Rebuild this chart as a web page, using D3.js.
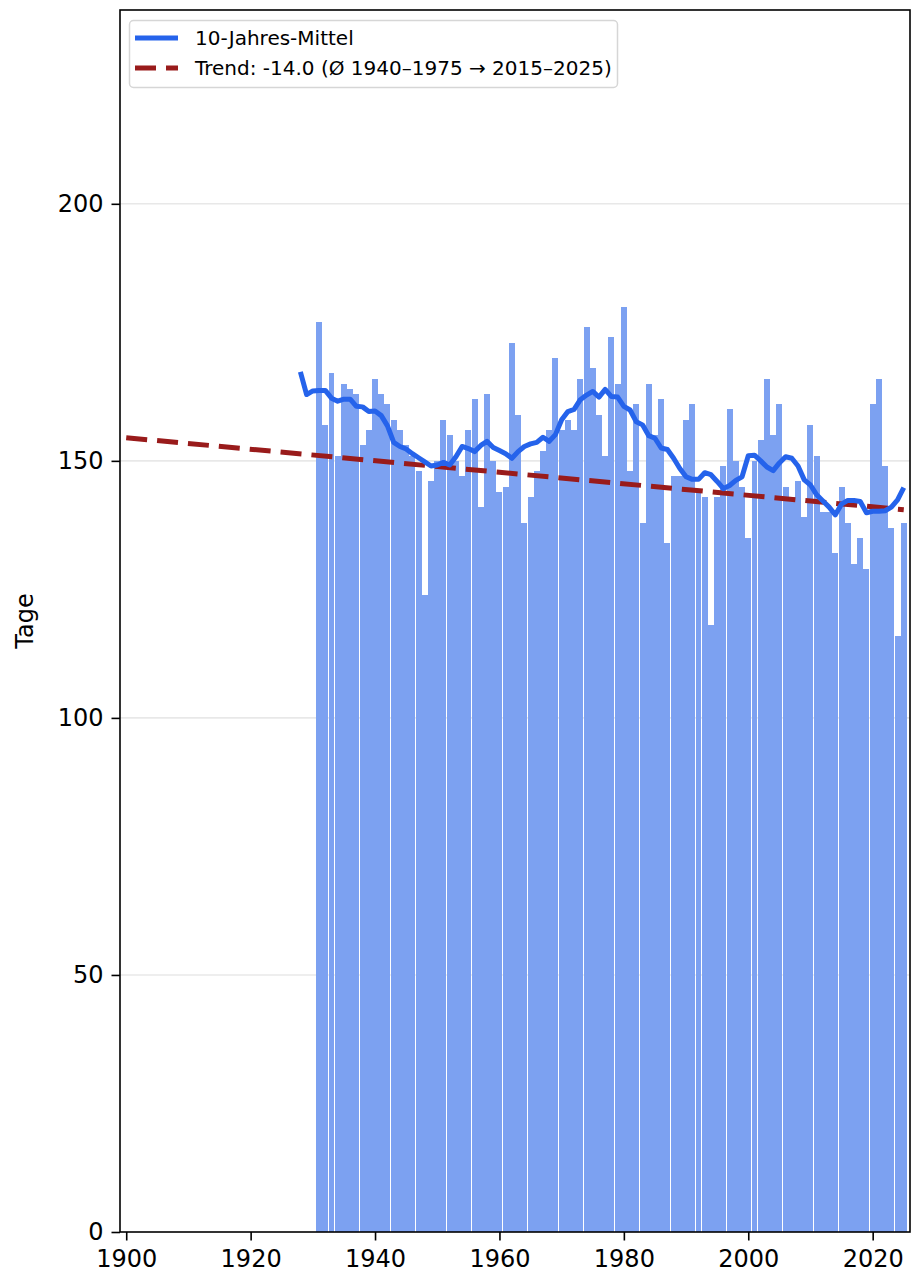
<!DOCTYPE html>
<html>
<head>
<meta charset="utf-8">
<script src="https://cdn.jsdelivr.net/npm/d3@7/dist/d3.min.js"></script>
<style>
  body { margin: 0; background: #fff; }
  svg { display: block; font-family: "DejaVu Sans", sans-serif; }
</style>
</head>
<body>
<div id="chart"></div>
<script>
// Tage pro Jahr (Balken)
const years = d3.range(1931, 2026);
const days = [
  177, 157, 167, 151, 165, 164, 163, 153, 156, 166,
  163, 161, 158, 156, 153, 151, 148, 124, 146, 150,
  158, 155, 150, 147, 156, 162, 141, 163, 150, 144,
  145, 173, 159, 138, 143, 148, 152, 156, 170, 156,
  158, 156, 166, 176, 168, 159, 151, 174, 165, 180,
  148, 161, 138, 165, 155, 162, 134, 147, 147, 158,
  161, 144, 143, 118, 143, 149, 160, 150, 145, 135,
  150, 154, 166, 155, 161, 145, 143, 146, 139, 157,
  151, 140, 140, 132, 145, 138, 130, 135, 129, 161,
  166, 149, 137, 116, 138
];

// 10-Jahres-Mittel
const meanYears = d3.range(1928, 2026);
const meanValues = [
  167.3, 162.9, 163.6, 163.7, 163.7, 162.2, 161.6, 162.0, 162.0, 160.6,
  160.5, 159.6, 159.7, 158.8, 156.8, 153.6, 152.8, 152.3, 151.4, 150.6,
  149.8, 149.0, 149.2, 149.7, 149.2, 150.8, 152.8, 152.4, 151.8, 153.0,
  153.8, 152.6, 152.0, 151.4, 150.5, 151.8, 152.8, 153.3, 153.6, 154.6,
  153.8, 155.1, 158.0, 159.6, 160.0, 161.9, 162.8, 163.5, 162.4, 163.9,
  162.5, 162.4, 160.6, 159.9, 157.6, 157.0, 154.9, 154.4, 152.5, 152.2,
  150.5, 148.5, 146.9, 146.4, 146.4, 147.7, 147.3, 146.0, 144.6, 145.2,
  146.2, 146.9, 151.0, 151.1, 150.0, 148.8, 148.1, 149.6, 150.8, 150.5,
  149.0, 146.3, 145.3, 143.4, 142.2, 141.0, 139.5, 141.6, 142.3, 142.3,
  142.1, 139.9, 140.2, 140.2, 140.3, 141.0, 142.4, 144.8
];

// Trendlinie
const trendYears = [1900, 2025];
const trendValues = [154.5, 140.5];

const xTicks = [1900, 1920, 1940, 1960, 1980, 2000, 2020];
const yTicks = [0, 50, 100, 150, 200];

const legendLabels = ['10-Jahres-Mittel', 'Trend: -14.0 (Ø 1940–1975 → 2015–2025)'];

const width = 912;
const height = 1278;
const margin = { top: 10, right: 2, bottom: 46, left: 120 };

const svg = d3.select('#chart')
  .append('svg')
  .attr('width', width)
  .attr('height', height);

const x = d3.scaleLinear()
  .domain([1899, 2026])
  .range([margin.left, width - margin.right]);

const y = d3.scaleLinear()
  .domain([0, 237.7])
  .range([height - margin.bottom, margin.top]);

// grid
svg.append('g')
  .selectAll('line')
  .data(yTicks.filter(d => d > 0))
  .enter().append('line')
  .attr('x1', margin.left)
  .attr('x2', width - margin.right)
  .attr('y1', d => y(d))
  .attr('y2', d => y(d))
  .attr('stroke', '#e8e8e8')
  .attr('stroke-width', 1.6);

// bars
const barHalf = 0.48;
svg.append('g')
  .selectAll('rect')
  .data(years)
  .enter().append('rect')
  .attr('x', d => x(d - barHalf))
  .attr('width', d => x(d + barHalf) - x(d - barHalf))
  .attr('y', (d, i) => y(days[i]))
  .attr('height', (d, i) => y(0) - y(days[i]))
  .attr('fill', '#7ca1f1')
  .attr('shape-rendering', 'crispEdges');

// trend
const trendLine = d3.line()
  .x((d, i) => x(trendYears[i]))
  .y(d => y(d));

svg.append('path')
  .datum(trendValues)
  .attr('d', trendLine)
  .attr('fill', 'none')
  .attr('stroke', '#991b1b')
  .attr('stroke-width', 5)
  .attr('stroke-dasharray', '21,10');

// 10-Jahres-Mittel
const meanLine = d3.line()
  .x((d, i) => x(meanYears[i]))
  .y(d => y(d));

svg.append('path')
  .datum(meanValues)
  .attr('d', meanLine)
  .attr('fill', 'none')
  .attr('stroke', '#2563eb')
  .attr('stroke-width', 5)
  .attr('stroke-linejoin', 'round');

// axes
const xAxis = svg.append('g')
  .attr('transform', 'translate(0,' + y(0) + ')')
  .call(d3.axisBottom(x)
    .tickValues(xTicks)
    .tickFormat(d3.format('d'))
    .tickSize(8.5)
    .tickPadding(8)
    .tickSizeOuter(0));

const yAxis = svg.append('g')
  .attr('transform', 'translate(' + margin.left + ',0)')
  .call(d3.axisLeft(y)
    .tickValues(yTicks)
    .tickSize(8.5)
    .tickPadding(8)
    .tickSizeOuter(0));

[xAxis, yAxis].forEach(g => {
  g.select('.domain').remove();
  g.selectAll('.tick line').attr('stroke', '#000').attr('stroke-width', 1.6);
  g.selectAll('.tick text')
    .attr('fill', '#000')
    .style('font-family', '"DejaVu Sans", sans-serif')
    .style('font-size', '24px');
});
xAxis.selectAll('.tick text').attr('dy', '0.76em');

// frame
svg.append('rect')
  .attr('x', margin.left)
  .attr('y', margin.top)
  .attr('width', width - margin.left - margin.right)
  .attr('height', height - margin.top - margin.bottom)
  .attr('fill', 'none')
  .attr('stroke', '#000')
  .attr('stroke-width', 1.6);

svg.append('text')
  .attr('transform', 'translate(33,' + ((margin.top + height - margin.bottom) / 2) + ') rotate(-90)')
  .style('text-anchor', 'middle')
  .style('font-size', '24px')
  .text('Tage');

// legend
const legend = svg.append('g');

legend.append('rect')
  .attr('x', 129.5)
  .attr('y', 20.5)
  .attr('width', 488)
  .attr('height', 67)
  .attr('rx', 4)
  .attr('fill', '#fff')
  .attr('fill-opacity', 0.8)
  .attr('stroke', '#d6d6d6')
  .attr('stroke-width', 1.5);

const legendStyles = [
  { color: '#2563eb', dash: null, width: 5 },
  { color: '#991b1b', dash: '21,10', width: 5 }
];

legendLabels.forEach((label, i) => {
  const rowY = 38 + i * 30;
  legend.append('line')
    .attr('x1', 135)
    .attr('x2', 178)
    .attr('y1', rowY)
    .attr('y2', rowY)
    .attr('stroke', legendStyles[i].color)
    .attr('stroke-width', legendStyles[i].width)
    .attr('stroke-dasharray', legendStyles[i].dash);
  legend.append('text')
    .attr('x', 195)
    .attr('y', rowY + 7)
    .style('font-size', '20px')
    .text(label);
});
</script>
</body>
</html>
